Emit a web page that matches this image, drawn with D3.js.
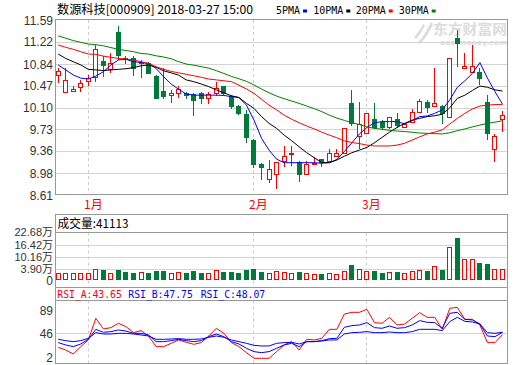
<!DOCTYPE html>
<html><head><meta charset="utf-8">
<script src="https://cdn.jsdelivr.net/npm/d3@7"></script>
<style>body{margin:0;background:#fff;} svg{display:block;}</style>
</head><body><svg id="c" width="520" height="365"></svg>
<script>
// ---------- data ----------
const opens  = [10.65,10.36,10.38,10.45,10.55,10.62,10.89,10.76,11.38,10.95,10.95,10.85,10.85,10.64,10.38,10.31,10.35,10.34,10.33,10.34,10.26,10.35,10.46,10.30,10.13,9.99,9.55,9.14,8.89,8.97,9.19,9.30,9.18,8.97,9.13,9.23,9.19,9.28,9.33,10.17,9.61,9.67,9.90,9.85,9.77,9.90,9.77,9.86,10.03,10.19,10.13,10.13,9.94,11.28,10.78,10.71,10.71,10.20,9.40,9.90];
const highs  = [10.78,10.78,10.47,10.56,10.65,11.16,10.97,11.03,11.48,10.97,10.97,10.91,10.88,10.65,10.78,10.40,10.47,10.37,10.34,10.37,10.37,10.53,10.46,10.31,10.15,10.06,9.56,9.15,9.21,9.18,9.44,9.44,9.19,9.19,9.25,9.23,9.39,9.39,9.75,10.40,10.20,10.00,10.17,9.89,9.94,10.00,9.84,10.07,10.24,10.22,10.77,10.14,10.94,11.42,11.02,11.16,10.77,10.31,9.65,10.04];
const lows   = [10.52,10.36,10.36,10.36,10.47,10.53,10.64,10.68,10.92,10.85,10.65,10.61,10.68,10.26,10.26,10.18,10.27,10.26,9.97,10.18,10.16,10.29,10.33,10.09,9.99,9.52,9.09,8.88,8.81,8.72,9.09,9.10,8.85,8.95,9.12,9.10,9.18,9.26,9.32,9.80,9.40,9.66,9.75,9.73,9.73,9.77,9.76,9.83,10.01,10.03,10.12,9.83,9.92,10.80,10.75,10.70,10.50,9.56,9.18,9.69];
const closes = [10.73,10.56,10.41,10.51,10.61,11.09,10.83,10.86,10.99,10.93,10.78,10.87,10.69,10.27,10.30,10.35,10.41,10.32,10.23,10.26,10.33,10.44,10.34,10.13,10.01,9.60,9.14,9.09,9.06,9.17,9.28,9.32,8.97,9.14,9.16,9.18,9.32,9.32,9.75,9.83,9.82,10.00,9.77,9.77,9.93,9.80,9.82,10.03,10.21,10.11,10.17,10.00,10.94,11.19,10.80,10.81,10.60,9.66,9.61,9.98];
// volume, unit: 万
const volumes = [1.87,2.21,2.21,1.87,1.87,3.90,3.56,2.21,3.56,2.55,2.04,2.55,2.04,3.05,3.05,2.04,2.55,2.04,3.05,2.21,2.04,3.56,2.72,2.72,2.21,3.56,4.07,2.72,1.87,2.89,2.55,1.87,2.55,1.87,1.36,1.53,1.87,1.53,3.05,6.10,3.90,3.05,3.05,2.04,2.55,2.55,2.04,3.05,3.39,3.05,5.42,3.56,15.07,19.63,8.97,8.97,7.28,6.61,3.90,4.11];
const ma5  = [10.825,10.74,10.655,10.60,10.585,10.635,10.71,10.825,10.91,10.92,10.88,10.865,10.85,10.765,10.625,10.50,10.41,10.33,10.31,10.31,10.31,10.31,10.305,10.285,10.27,10.14,9.885,9.575,9.375,9.22,9.16,9.16,9.16,9.16,9.16,9.15,9.16,9.215,9.35,9.50,9.65,9.76,9.84,9.86,9.86,9.86,9.82,9.875,9.945,9.955,10.00,10.06,10.23,10.445,10.555,10.68,10.865,10.60,10.37,10.155];
const ma10 = [11.01,10.935,10.88,10.825,10.75,10.74,10.73,10.74,10.75,10.76,10.78,10.81,10.825,10.785,10.725,10.69,10.65,10.57,10.54,10.50,10.455,10.40,10.35,10.30,10.27,10.17,10.085,9.945,9.83,9.745,9.63,9.535,9.43,9.33,9.245,9.165,9.16,9.205,9.27,9.33,9.375,9.42,9.50,9.59,9.68,9.76,9.83,9.885,9.915,9.945,9.96,9.985,10.095,10.255,10.31,10.39,10.465,10.445,10.40,10.38];
const ma20 = [11.165,11.125,11.09,11.05,11.01,11.005,10.975,10.955,10.935,10.925,10.91,10.88,10.85,10.795,10.75,10.715,10.69,10.665,10.64,10.615,10.585,10.57,10.555,10.54,10.48,10.415,10.34,10.24,10.14,10.06,9.97,9.90,9.84,9.785,9.735,9.68,9.63,9.585,9.53,9.505,9.485,9.46,9.445,9.445,9.445,9.46,9.49,9.545,9.60,9.65,9.68,9.72,9.82,9.915,10.0,10.075,10.125,10.14,10.15,10.15];
const ma30 = [11.32,11.28,11.24,11.21,11.18,11.17,11.15,11.12,11.09,11.07,11.05,11.02,11.01,10.98,10.96,10.93,10.88,10.84,10.82,10.795,10.77,10.727,10.68,10.63,10.59,10.545,10.483,10.415,10.35,10.295,10.25,10.21,10.17,10.125,10.08,10.03,9.97,9.92,9.88,9.84,9.81,9.77,9.745,9.73,9.71,9.70,9.69,9.68,9.665,9.66,9.655,9.65,9.67,9.705,9.735,9.77,9.80,9.83,9.85,9.875];
const rsiA = [20.3,15.3,8.0,21.5,33.8,73.7,54.0,56.5,64.5,58.3,47.3,51.0,41.1,21.5,21.5,27.6,33.8,29.5,25.8,28.9,41.1,55.3,46.0,28.9,21.5,10.4,0,0,0,12.3,24.6,30.7,15.3,35.0,33.8,36.8,53.4,53.4,81.6,84.7,84.7,90.2,65.7,64.5,75.5,61.4,63.2,73.7,84.1,75.5,75.5,53.4,92.1,93.9,71.8,71.8,61.4,28.9,28.9,43.65];
const rsiB = [28.9,24.6,21.5,26.4,35.0,53.4,47.9,49.1,52.2,50.3,46.0,46.0,43.0,30.7,30.7,32.5,35.0,32.5,30.7,32.5,39.9,44.8,39.9,30.7,26.4,18.4,12.3,10.4,12.3,18.4,24.6,27.6,21.5,30.7,30.7,32.5,36.2,36.8,57.1,60.2,61.4,65.7,56.5,55.3,59.5,55.3,56.5,61.4,69.4,66.3,65.7,55.3,82.9,84.7,71.8,70.6,63.2,41.1,39.9,47.75];
const rsiC = [35.0,32.5,30.7,32.5,36.8,47.3,44.8,44.8,46.0,46.0,44.8,43.0,41.1,35.0,35.0,35.6,36.2,35.0,35.0,35.6,38.7,41.1,38.7,33.8,30.7,27.6,23.9,22.7,22.7,27.6,28.9,29.5,26.4,30.7,30.7,31.9,33.8,33.8,44.8,47.3,47.9,49.1,47.3,47.3,48.5,47.3,47.3,49.1,53.4,53.4,53.4,51.0,67.5,75.5,68.1,66.9,63.2,47.3,46.0,48.07];
const priceTicks = [11.59,11.22,10.84,10.47,10.10,9.73,9.36,8.98,8.61];
const volTicks = [22.68,16.42,10.16,3.90];
const volTickLabels = ["22.68万","16.42万","10.16万","3.90万"];
const rsiTicks = [89,46,2];
const monthLabels = ["1月","2月","3月"];
const monthIdx = [4,26,41];
const titleText = "数源科技[000909] 2018-03-27 15:00";
const legendNames = ["5PMA","10PMA","20PMA","30PMA"];
const volTitle = "成交量:41113";
const rsiNames = ["RSI_A:43.65","RSI_B:47.75","RSI_C:48.07"];

// ---------- styles ----------
const RED="#ff0000", GREEN="#007a3a", FRAME="#999999", GRID="#d4d4d4";
const maColors=["#0000ff","#000000","#ff0000","#008000"];
const L=55.5, R=507.5;

const svg=d3.select("#c");
const x=d3.scaleLinear().domain([0,59]).range([57.7,502.0]);
const y=d3.scaleLinear().domain([8.61,11.59]).range([195,20]);
const yv=d3.scaleLinear().domain([-1.68,22.68]).range([280.3,232.3]);
const yr=d3.scaleLinear().domain([0,89]).range([358.3,310]);
const px=v=>Math.round(v)+0.5;
const cx=i=>Math.round(x(i));

// watermark
const wm=svg.append("g").attr("fill","#dcdcdc");
wm.append("path").attr("d","M418,42 C424,36 428,28 431,22 L433,24 C430,31 426,38 420,44 Z M414,37 C418,33 421,28 423,24 L425,25 C423,30 420,35 416,39 Z");
wm.append("text").attr("x",433).attr("y",34).attr("font-family","Noto Sans CJK SC").attr("font-weight","bold").attr("font-size",14).attr("textLength",74).attr("lengthAdjust","spacingAndGlyphs").text("东方财富网");
wm.append("text").attr("x",440).attr("y",45).attr("font-family","DejaVu Sans").attr("font-weight","bold").attr("font-size",7).attr("textLength",67).attr("lengthAdjust","spacingAndGlyphs").text("eastmoney.com");

// ---------- header ----------
svg.append("text").attr("x",57).attr("y",14).attr("font-family","Noto Sans CJK SC").attr("font-size",12)
  .attr("textLength",196).attr("lengthAdjust","spacingAndGlyphs").attr("fill","#000").text(titleText);
const legX=[276,313.3,355.7,398.7], legW=[24,30,30,30];
legendNames.forEach((n,k)=>{
  svg.append("text").attr("x",legX[k]).attr("y",14).attr("font-family","DejaVu Sans Mono").attr("font-size",11)
    .attr("textLength",legW[k]).attr("lengthAdjust","spacingAndGlyphs").attr("fill","#000").text(n);
  svg.append("rect").attr("x",legX[k]+legW[k]+3).attr("y",9.5).attr("width",4).attr("height",3).attr("fill",maColors[k]);
});

// ---------- main panel ----------
const gMain=svg.append("g");
priceTicks.forEach(t=>{
  if(t!==priceTicks[0] && t!==priceTicks[priceTicks.length-1])
    gMain.append("line").attr("x1",L).attr("x2",R).attr("y1",px(y(t))).attr("y2",px(y(t))).attr("stroke",GRID);
  gMain.append("text").attr("x",53).attr("y",y(t)+4.5).attr("text-anchor","end").attr("font-family","Liberation Sans").attr("font-size",12).attr("fill","#333").text(t.toFixed(2));
});
// month dashed lines (all panels) and labels
monthIdx.forEach((mi,k)=>{
  const xx=cx(mi)+0.5;
  [[20,195],[232.5,287.5],[300.5,363.5]].forEach(r=>{
    svg.append("line").attr("x1",xx).attr("x2",xx).attr("y1",r[0]).attr("y2",r[1]).attr("stroke","#cccccc").attr("stroke-dasharray","3,3");
  });
  svg.append("text").attr("x",xx-4.5).attr("y",209).attr("font-family","Noto Sans CJK SC").attr("font-size",12).attr("fill",RED).text(monthLabels[k]);
});

// candles
const idx=d3.range(opens.length);
const gC=svg.append("g");
idx.forEach(i=>{
  const c=cx(i), up=closes[i]>=opens[i];
  const top=Math.round(y(Math.max(opens[i],closes[i]))), bot=Math.round(y(Math.min(opens[i],closes[i])));
  const hi=Math.round(y(highs[i])), lo=Math.round(y(lows[i]));
  const col=up?RED:GREEN;
  if(up){
    if(hi<top) gC.append("line").attr("x1",c+0.5).attr("x2",c+0.5).attr("y1",hi).attr("y2",top).attr("stroke",col);
    if(lo>bot) gC.append("line").attr("x1",c+0.5).attr("x2",c+0.5).attr("y1",bot).attr("y2",lo).attr("stroke",col);
    gC.append("rect").attr("x",c-1.5).attr("y",top+0.5).attr("width",4).attr("height",Math.max(1,bot-top)).attr("fill","#fff").attr("stroke",col);
  } else {
    gC.append("line").attr("x1",c+0.5).attr("x2",c+0.5).attr("y1",hi).attr("y2",lo+1).attr("stroke",col);
    gC.append("rect").attr("x",c-2).attr("y",top).attr("width",5).attr("height",Math.max(1,bot-top+1)).attr("fill",col);
  }
});
// moving averages
[ma5,ma10,ma20,ma30].forEach((arr,k)=>{
  svg.append("path").datum(arr).attr("fill","none").attr("stroke",maColors[k]).attr("stroke-width",1)
    .attr("d",d3.line().x((d,i)=>x(i)+0.5).y(d=>y(d)));
});
svg.append("rect").attr("x",L).attr("y",19.5).attr("width",R-L).attr("height",175).attr("fill","none").attr("stroke",FRAME);

// ---------- volume panel ----------
volTicks.forEach((t,k)=>{
  if(k>0) svg.append("line").attr("x1",L).attr("x2",R).attr("y1",px(yv(t))).attr("y2",px(yv(t))).attr("stroke",GRID);
  svg.append("text").attr("x",53).attr("y",yv(t)+4).attr("text-anchor","end").attr("font-family","Liberation Sans, Noto Sans CJK SC").attr("font-size",11).attr("fill","#333").text(volTickLabels[k]);
});
svg.append("text").attr("x",53).attr("y",yv.range()[0]+4.5).attr("text-anchor","end").attr("font-family","Liberation Sans").attr("font-size",12).attr("fill","#333").text("0");
const base=Math.round(yv.range()[0]);
idx.forEach(i=>{
  const c=cx(i), up=closes[i]>=opens[i], t=Math.round(yv(volumes[i]));
  if(up) svg.append("rect").attr("x",c-1.5).attr("y",t+0.5).attr("width",4).attr("height",base-t-1).attr("fill","#fff").attr("stroke",RED);
  else svg.append("rect").attr("x",c-2).attr("y",t).attr("width",5).attr("height",base-t).attr("fill",GREEN);
});
svg.append("rect").attr("x",L).attr("y",214.5).attr("width",R-L).attr("height",73).attr("fill","none").attr("stroke",FRAME);
svg.append("line").attr("x1",L).attr("x2",R).attr("y1",232.5).attr("y2",232.5).attr("stroke",FRAME);
svg.append("text").attr("x",57.5).attr("y",227.5).attr("font-family","Noto Sans CJK SC").attr("font-size",12).attr("fill","#000")
  .attr("textLength",71).attr("lengthAdjust","spacingAndGlyphs").text(volTitle);

// ---------- RSI panel ----------
svg.append("line").attr("x1",L).attr("x2",R).attr("y1",px(yr(46))).attr("y2",px(yr(46))).attr("stroke",GRID);
rsiTicks.forEach(t=>{
  svg.append("text").attr("x",53).attr("y",yr(t)+4.5).attr("text-anchor","end").attr("font-family","Liberation Sans").attr("font-size",12).attr("fill","#333").text(t);
});
const rsiCols=["#ff0000","#0000ff","#0000ff"];
[rsiA,rsiB,rsiC].forEach((arr,k)=>{
  svg.append("path").datum(arr).attr("fill","none").attr("stroke",rsiCols[k]).attr("stroke-width",1)
    .attr("d",d3.line().x((d,i)=>x(i)+0.5).y(d=>yr(d)));
});
svg.append("rect").attr("x",L).attr("y",287.5).attr("width",R-L).attr("height",76).attr("fill","none").attr("stroke",FRAME);
svg.append("line").attr("x1",L).attr("x2",R).attr("y1",300.5).attr("y2",300.5).attr("stroke",FRAME);
const rsiX=[57.3,128.3,200.7];
rsiNames.forEach((n,k)=>{
  svg.append("text").attr("x",rsiX[k]).attr("y",297.5).attr("font-family","DejaVu Sans Mono").attr("font-size",11)
    .attr("textLength",64.5).attr("lengthAdjust","spacingAndGlyphs").attr("fill",rsiCols[k]).text(n);
});
</script></body></html>
